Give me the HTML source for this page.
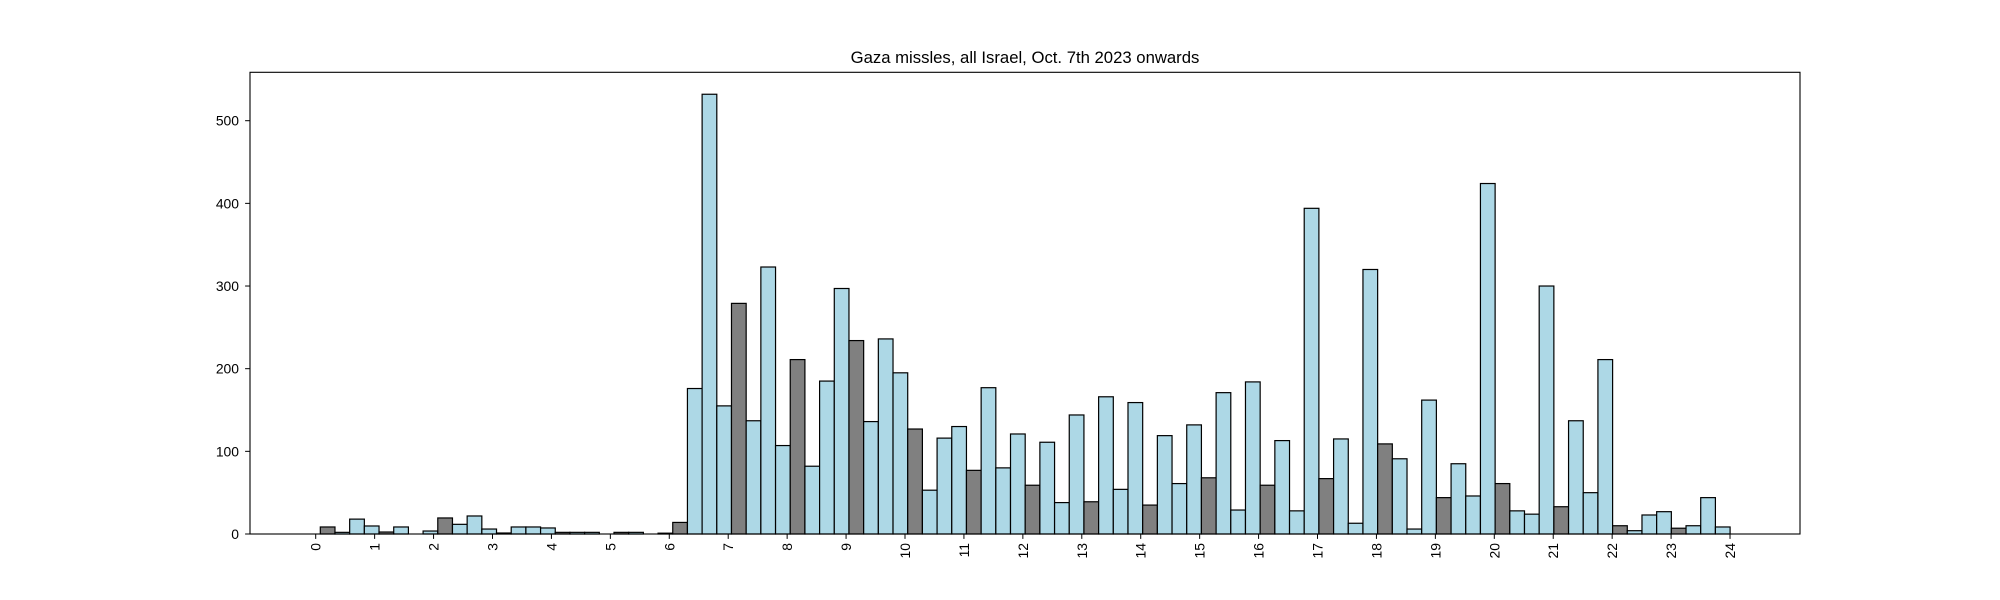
<!DOCTYPE html>
<html><head><meta charset="utf-8"><style>
html,body{margin:0;padding:0;background:#fff;}
svg{display:block;font-family:"Liberation Sans","DejaVu Sans",sans-serif;}
</style></head><body>
<svg id="chart" width="2000" height="600" viewBox="0 0 2000 600" xmlns="http://www.w3.org/2000/svg">
<rect x="0" y="0" width="2000" height="600" fill="#fff"/>
<text x="1025" y="63" font-size="16.7" text-anchor="middle" fill="#000">Gaza missles, all Israel, Oct. 7th 2023 onwards</text>
<g id="bars"></g>
<g id="axes"></g>
</svg>
<script>
const binValues = [8.5,2,18,9.7, 2.4,8.5,0,3.6, 19.4,11.7,21.8,6, 1.2,8.5,8.5,7.3, 2,2,2,0, 2,2,0,1,
 14,176,532,155, 279,137,323,107, 211,82,185,297, 234,136,236,195, 127,53,116,130, 77,177,80,121,
 59,111,38,144, 39,166,54,159, 35,119,61,132, 68,171,29,184, 59,113,28,394, 67,115,13,320,
 109,91,6,162, 44,85,46,424, 61,28,24,300, 33,137,50,211, 10,4,23,27, 7,10,44,8.5];
const binStartHour = [0.078];
const binWidthHours = [0.2492];
const xTickLabels = ["0","1","2","3","4","5","6","7","8","9","10","11","12","13","14","15","16","17","18","19","20","21","22","23","24"];
const yTickLabels = ["0","100","200","300","400","500"];

const L=250,R=1800,T=72.3,B=534;
const X0=315.7,HOUR=58.93;
const PXU=0.8266;
function xs(h){return X0+h*HOUR;}
function ys(v){return B-v*PXU;}
const NS="http://www.w3.org/2000/svg";
const bars=document.getElementById('bars');
const axes=document.getElementById('axes');
const bw=binWidthHours[0], b0=binStartHour[0];
binValues.forEach((v,i)=>{
  const r=document.createElementNS(NS,'rect');
  const x1=xs(b0+i*bw),x2=xs(b0+(i+1)*bw);
  r.setAttribute('x',x1);r.setAttribute('width',x2-x1);
  r.setAttribute('y',ys(v));r.setAttribute('height',B-ys(v));
  r.setAttribute('fill',i%4===0?'#808080':'#add8e6');
  r.setAttribute('stroke','#000');r.setAttribute('stroke-width','1.2');
  
  
  bars.appendChild(r);
});
const frame=document.createElementNS(NS,'rect');
frame.setAttribute('x',L);frame.setAttribute('y',T);frame.setAttribute('width',R-L);frame.setAttribute('height',B-T);
frame.setAttribute('fill','none');frame.setAttribute('stroke','#000');frame.setAttribute('stroke-width','1.1');


axes.appendChild(frame);
xTickLabels.forEach((lab)=>{
  const h=parseFloat(lab),x=xs(h);
  const t=document.createElementNS(NS,'line');
  t.setAttribute('x1',x);t.setAttribute('x2',x);t.setAttribute('y1',B);t.setAttribute('y2',B+4.9);
  t.setAttribute('stroke','#000');t.setAttribute('stroke-width','1');
  
  
  axes.appendChild(t);
  const tx=document.createElementNS(NS,'text');
  tx.setAttribute('transform','translate('+(x+5)+','+(B+9)+') rotate(-90)');
  tx.setAttribute('text-anchor','end');tx.setAttribute('font-size','13.9');
  tx.textContent=lab;
  
  
  axes.appendChild(tx);
});
yTickLabels.forEach((lab)=>{
  const y=ys(parseFloat(lab));
  const t=document.createElementNS(NS,'line');
  t.setAttribute('x1',L-4.9);t.setAttribute('x2',L);t.setAttribute('y1',y);t.setAttribute('y2',y);
  t.setAttribute('stroke','#000');t.setAttribute('stroke-width','1');
  
  
  axes.appendChild(t);
  const tx=document.createElementNS(NS,'text');
  tx.setAttribute('x',L-11);tx.setAttribute('y',y+5);
  tx.setAttribute('text-anchor','end');tx.setAttribute('font-size','13.9');
  tx.textContent=lab;
  
  
  axes.appendChild(tx);
});
</script>
</body></html>
